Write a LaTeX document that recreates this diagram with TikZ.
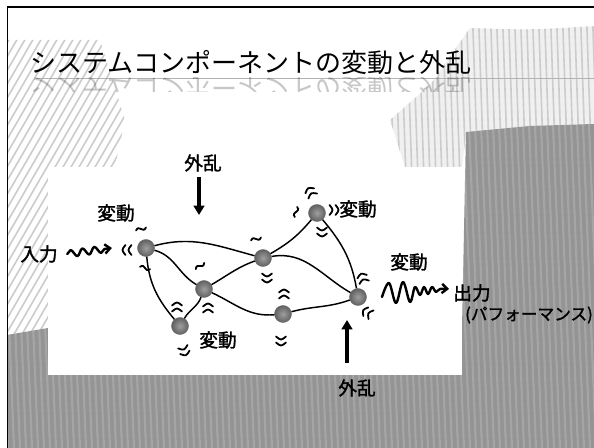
\documentclass[tikz,border=0pt]{standalone}
\usepackage{fontspec}
\newfontfamily\jp[FakeBold=1.6]{Noto Sans CJK JP}
\newfontfamily\jpt{Noto Sans CJK JP}
\usetikzlibrary{arrows.meta,decorations.pathmorphing}
\newcommand\dblmk[3]{\draw[mk,shift={(#1,#2)},rotate=#3] (-5,-2.5) .. controls (0,-6.5) .. (5,-2.5) (-5,3.5) .. controls (0,-0.5) .. (5,3.5);}
\newcommand\tldmk[3]{\draw[mk,shift={(#1,#2)},rotate=#3] (-5,1.5) .. controls (-2,-5) and (2,5) .. (5,-1.5);}
\begin{document}
\begin{tikzpicture}[x=0.75pt,y=-0.75pt,
  ball/.style={circle, inner color=black!38, outer color=black!62, draw=black!60, line width=0.3pt, minimum size=12.8pt, inner sep=0pt},
  edge/.style={line width=1.1pt, black},
  mk/.style={line width=1.35pt, line cap=round, black},
  lab/.style={font=\jp\fontsize{14pt}{16pt}\selectfont, inner sep=0pt},
  ttl/.style={font=\jpt\fontsize{19.5pt}{22pt}\selectfont, inner sep=0pt},
  bigarrow/.style={line width=3pt, -{Triangle[width=8pt,length=7pt]}},
  wave/.style={line width=1.8pt, line cap=round, line join=round}
]
\useasboundingbox (0,0) rectangle (594,448);
\fill[white] (0,0) rectangle (594,448);
\begin{scope}
  \clip (7,7) rectangle (594,448);
  % left diagonal hatch
  \begin{scope}
    \clip (7,40) -- (100,40) -- (125,120) -- (115,167) -- (48,167) -- (48,448) -- (7,448) -- cycle;
    \foreach \i in {-300,-292,...,130} \draw[gray!40, line width=1.2pt] (\i,448) -- ({\i+260},0);
  \end{scope}
  % upper right vertical hatch
  \begin{scope}
    \clip (470,28) .. controls (530,30) .. (594,26) -- (594,130) -- (466,134) -- (462,167) -- (405,167) -- (390,120) -- (430,85) -- cycle;
    \fill[gray!12] (380,0) rectangle (594,200);
    \foreach \i in {370,376,...,600} \draw[gray!40, line width=1.2pt] (\i,0) -- ({\i+15},448);
  \end{scope}
  % dark region
  \fill[black!42] (7,335) -- (48,328) -- (462,328) -- (466,132) -- (530,126) -- (594,124) -- (594,448) -- (7,448) -- cycle;
  \begin{scope}
    \clip (7,335) -- (48,328) -- (462,328) -- (466,132) -- (530,126) -- (594,124) -- (594,448) -- (7,448) -- cycle;
    \foreach \i in {-30,-24,...,600} \draw[white, opacity=0.16, line width=1.6pt] (\i,100) -- ({\i+14},448);
  \end{scope}
  \draw[line width=0.9pt] (7,448) -- (7,7) -- (594,7);
\end{scope}
% white panel
\fill[white] (48,167) rectangle (462,375);
% title
\draw[gray!60, line width=0.6pt] (36,78) -- (594,78);
\node[ttl, anchor=base west] (title) at (30,73) {システムコンポーネントの変動と外乱};
\begin{scope}
  \clip (0,78) rectangle (594,92);
  \begin{scope}[shift={(30,79)}, yscale=-1]
    \node[ttl, transform shape, anchor=base west, opacity=0.22] (refl) at (0,0) {システムコンポーネントの変動と外乱};
  \end{scope}
\end{scope}
% network nodes
\node[ball] (n1) at (146,248) {};
\node[ball] (n2) at (204,289) {};
\node[ball] (n3) at (180,326) {};
\node[ball] (n4) at (263,258) {};
\node[ball] (n5) at (317,213) {};
\node[ball] (n6) at (283,314) {};
\node[ball] (n7) at (358,297) {};
% edges
\draw[edge] (n1) to[out=15,in=165] (n4);
\draw[edge] (n1) to[out=-15,in=150] (n2);
\draw[edge] (n1) to[out=-85,in=130] (n3);
\draw[edge] (n2) to[out=-110,in=60] (n3);
\draw[edge] (n2) to[out=30,in=200] (n4);
\draw[edge] (n2) to[out=-25,in=185] (n6);
\draw[edge] (n4) to[out=30,in=230] (n5);
\draw[edge] (n4) to[out=10,in=150] (n7);
\draw[edge] (n5) to[out=-50,in=100] (n7);
\draw[edge] (n6) to[out=15,in=200] (n7);
% variation marks
\dblmk{128}{250}{90}
\tldmk{141}{229}{0}
\tldmk{145}{268}{-30}
\tldmk{200}{266}{20}
\dblmk{208}{309}{0}
\dblmk{177}{308}{0}
\dblmk{184}{350}{200}
\tldmk{256}{239}{0}
\dblmk{267}{277}{180}
\dblmk{311}{193}{30}
\tldmk{296}{212}{60}
\dblmk{333}{210}{-90}
\dblmk{322}{231}{180}
\dblmk{284}{295}{0}
\dblmk{281}{340}{180}
\dblmk{363}{279}{20}
\dblmk{368}{313}{60}
% labels
\node[lab] (v1) at (116,213) {変動};
\node[lab] (v5) at (358,209) {変動};
\node[lab] (vo) at (409,262) {変動};
\node[lab] (v3) at (218,340) {変動};
\node[lab] (in) at (39,254) {入力};
\node[lab] (out) at (472,293) {出力};
\node[lab, font=\jp\fontsize{12.5pt}{14pt}\selectfont] (perf) at (529,315) {(パフォーマンス)};
\node[lab] (d1) at (203,163) {外乱};
\node[lab] (d2) at (357,388) {外乱};
% disturbance arrows
\coordinate (d1s) at (199,177);
\coordinate (d1t) at (199,215);
\draw[bigarrow] (d1s) -- (d1t);
\coordinate (d2s) at (347,363);
\coordinate (d2t) at (347,320);
\draw[bigarrow] (d2s) -- (d2t);
% input wave
\draw[wave, decorate, decoration={snake, amplitude=2.6pt, segment length=9pt, post length=5pt}, -{Straight Barb[length=4pt,width=7pt]}] ([xshift=7pt]in.east) -- ([xshift=-19pt]n1.west);
% output wave
\draw[wave, -{Straight Barb[length=4pt,width=7pt]}] plot[smooth, tension=0.6] coordinates {(382,297) (389,283) (396,303) (403,282) (410,302) (415,287) (420,295) (424,287) (428,294) (432,287) (436,292) (440,289) (449,289)};
\end{tikzpicture}
\end{document}
